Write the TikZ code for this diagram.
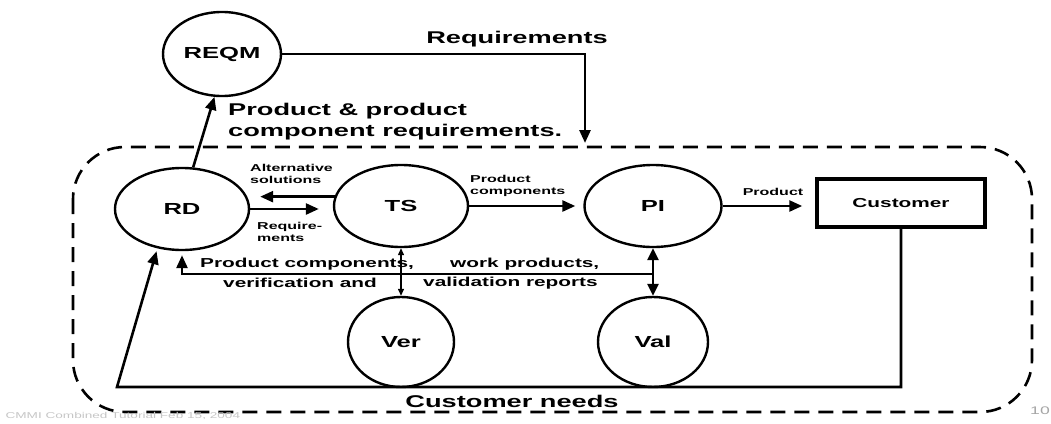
\documentclass[tikz,border=0pt]{standalone}
\usepackage{fontspec}
\setmainfont{Liberation Sans}[FakeStretch=1.6]
\usetikzlibrary{shapes.geometric, arrows.meta, positioning}

\begin{document}
\begin{tikzpicture}[x=1pt, y=-1pt,
    proc/.style={ellipse, draw, line width=2.4pt, inner sep=0pt,
      minimum width=134pt, minimum height=82pt,
      font=\bfseries\fontsize{16}{18}\selectfont},
    conn/.style={line width=2.6pt, -{Triangle[length=13pt, width=11pt]}},
    lblbig/.style={font=\bfseries\fontsize{17}{21}\selectfont, inner sep=0pt},
    lblmid/.style={font=\bfseries\fontsize{13}{15}\selectfont, inner sep=0pt},
    lblsmall/.style={font=\bfseries\fontsize{10}{12}\selectfont, align=left, inner sep=0pt}]
  \useasboundingbox (0,0) rectangle (1051,423);

  % process bubbles
  \node[proc, minimum width=118pt, minimum height=84pt] (reqm) at (222,54) {REQM};
  \node[proc] (rd) at (182,209) {RD};
  \node[proc] (ts) at (401,206) {TS};
  \node[proc, minimum width=137pt] (pi) at (653,206) {PI};
  \node[draw, line width=3.5pt, minimum width=168pt, minimum height=48pt,
    font=\bfseries\fontsize{13}{15}\selectfont] (cust) at (901,203) {Customer};
  \node[proc, minimum width=106pt, minimum height=90pt] (ver) at (401,342) {Ver};
  \node[proc, minimum width=110pt, minimum height=90pt] (val) at (653,342) {Val};

  % project boundary
  \draw[line width=2.6pt, dash pattern=on 15pt off 9pt, rounded corners=52pt]
    (73,147) rectangle (1032,412);

  % requirements flow
  \coordinate (rqin) at (585,143);
  \draw[conn] (reqm.east) -| (rqin);
  \node[lblbig] (lrq) at (517,39) {Requirements};
  \draw[conn] (rd.75) -- (reqm.260);
  \node[lblbig, anchor=west, align=left] (lpr) at (228,122)
    {Product \& product\\component requirements.};

  % RD <-> TS
  \draw[conn, shorten >=10pt] (ts.172) -- (ts.172 -| rd.east);
  \draw[conn, shorten >=14pt] (rd.east) -- (rd.east -| ts.west);
  \node[lblsmall, anchor=west] (lalt) at (250,174) {Alternative\\solutions};
  \node[lblsmall, anchor=west] (lreq) at (257,232) {Require-\\ments};

  % TS -> PI -> Customer
  \draw[conn, shorten >=8pt] (ts.east) -- (pi.west);
  \node[lblsmall, anchor=west] (lpc) at (470,186) {Product\\components};
  \draw[conn, shorten >=13pt] (pi.east) -- (pi.east -| cust.west);
  \node[lblsmall] (lprod) at (773,192) {Product};

  % customer needs
  \coordinate (cnl) at (117,387);
  \draw[conn, shorten >=3pt] (cust.south) |- (cnl) -- (rd.-122);
  \node[lblbig] (lcn) at (512,401) {Customer needs};

  % verification and validation
  \draw[line width=1.3pt, {Triangle[length=7pt, width=6pt]}-{Triangle[length=7pt, width=6pt]}]
    (ts.south) -- (ver.north);
  \draw[line width=2.6pt, {Triangle[length=12pt, width=11pt]}-{Triangle[length=12pt, width=11pt]}]
    (pi.south) -- (val.north);
  \coordinate (wp) at (653,274);
  \draw[conn, shorten >=4pt] (wp) -| (rd.south);
  \node[lblmid, anchor=west] (lpco) at (200,264) {Product components,};
  \node[lblmid, anchor=west] (lwp) at (450,264) {work products,};
  \node[lblmid, anchor=west] (lvf) at (223,283) {verification and};
  \node[lblmid, anchor=west] (lvr) at (423,283) {validation reports};

  % footer
  \node[font=\fontsize{8.5}{10}\selectfont, text=gray!45, anchor=west] (foot) at (2,416)
    {CMMI Combined Tutorial Feb 15, 2004};
  \node[font=\fontsize{11}{13}\selectfont, text=gray!70, anchor=east, inner sep=0pt] (pg) at (1050,411) {10};
\end{tikzpicture}
\end{document}
